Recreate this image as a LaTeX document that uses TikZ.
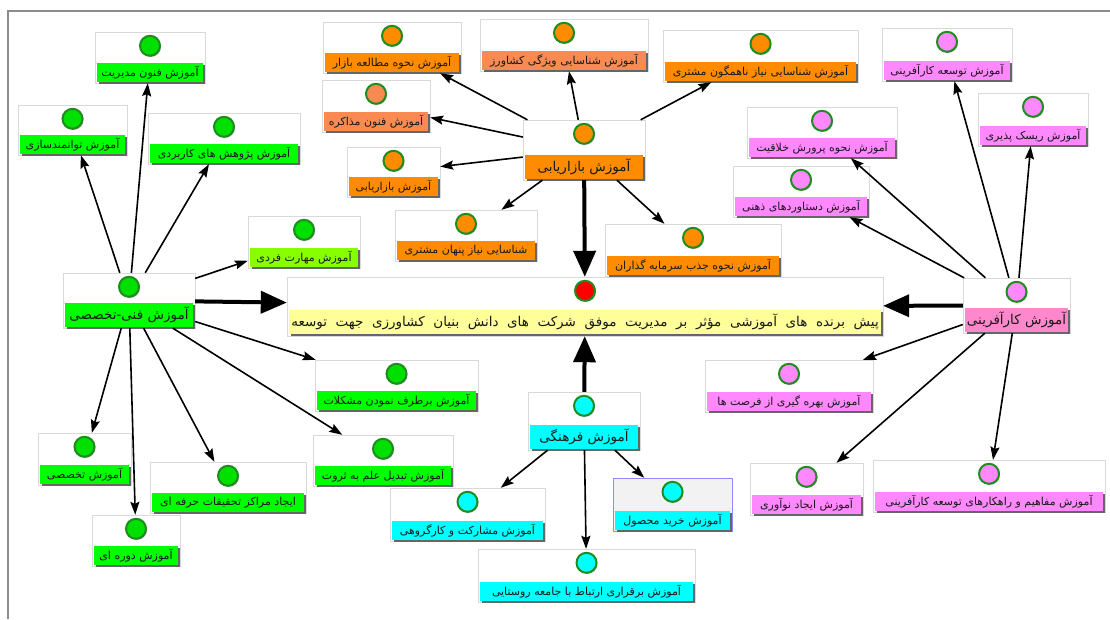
\documentclass[tikz,border=0pt]{standalone}
\usepackage{fontspec}
\usepackage{tikz}
\usetikzlibrary{positioning,arrows.meta,shadows}
\TeXXeTstate=1
\newfontfamily\fa[Script=Arabic]{DejaVu Sans}

\definecolor{gstrip}{HTML}{00FF00}
\definecolor{ystrip}{HTML}{88FF00}
\definecolor{gdot}{HTML}{00E000}
\definecolor{ostrip}{HTML}{FF8C00}
\definecolor{sstrip}{HTML}{F98A52}
\definecolor{cstrip}{HTML}{00FFFF}
\definecolor{pstrip}{HTML}{FF88FF}
\definecolor{kstrip}{HTML}{FF88CC}
\definecolor{mstrip}{HTML}{FFFF99}
\definecolor{ring}{HTML}{1E8C1E}

\tikzset{
  box/.style={draw=black!15, fill=white, inner sep=0pt},
  dot/.style={circle, draw=ring, line width=2pt, minimum size=20pt, inner sep=0pt,
    drop shadow={shadow xshift=1pt, shadow yshift=-1pt, fill=black!35, opacity=1}},
  strip/.style={inner sep=0pt, minimum height=19pt, text=black!90,
    font=\fa\fontsize{11}{12}\selectfont,
    drop shadow={shadow xshift=2pt, shadow yshift=-2pt, fill=black!60, opacity=1}},
  hubstrip/.style={strip, minimum height=24pt, font=\fa\fontsize{13.5}{15}\selectfont},
  arr/.style={-{Stealth[length=13pt,width=9pt,inset=2pt]}, line width=1.6pt},
  bigarr/.style={-{Triangle[length=26pt,width=22pt]}, line width=4pt}
}

\begin{document}
\begin{tikzpicture}[x=1pt, y=-1pt]
\useasboundingbox[fill=white] (0,0) rectangle (1110,619);

%% frame
\draw[black!45, line width=1.5pt] (8,619) -- (8,11) -- (1110,11);

%% goal
\node[box, minimum width=596, minimum height=59] (main) at (585,306.5) {};
\node[dot, fill=red, below=3pt of main.north] {};
\node[strip, fill=mstrip, minimum width=592, minimum height=24pt, font=\fa\fontsize{13.5}{15}\selectfont, above=2pt of main.south]
  {\beginR پیش\ \ برنده\ \ های\ \ آموزشی\ \ مؤثر\ \ بر\ \ مدیریت\ \ موفق\ \ شرکت\ \ های\ \ دانش\ \ بنیان\ \ کشاورزی\ \ جهت\ \ توسعه\endR};

%% technical (green)
\node[box, minimum width=132, minimum height=55] (hubG) at (129,300.5) {};
\node[dot, fill=gdot, below=3pt of hubG.north] {};
\node[hubstrip, fill=gstrip, minimum width=128, above=1pt of hubG.south] {\beginR آموزش فنی-تخصصی\endR};

\node[box, minimum width=110, minimum height=51] (mgmt) at (150,57.5) {};
\node[dot, fill=gdot, below=3pt of mgmt.north] {};
\node[strip, fill=gstrip, minimum width=106, above=1pt of mgmt.south] {\beginR آموزش فنون مدیریت\endR};

\node[box, minimum width=109, minimum height=50] (empower) at (72.5,130) {};
\node[dot, fill=gdot, below=3pt of empower.north] {};
\node[strip, fill=gstrip, minimum width=105, above=1pt of empower.south] {\beginR آموزش توانمندسازی\endR};

\node[box, minimum width=152, minimum height=51] (research) at (224,138.5) {};
\node[dot, fill=gdot, below=3pt of research.north] {};
\node[strip, fill=gstrip, minimum width=148, above=1pt of research.south] {\beginR آموزش پژوهش های کاربردی\endR};

\node[box, minimum width=112, minimum height=52] (skill) at (304,242) {};
\node[dot, fill=gdot, below=3pt of skill.north] {};
\node[strip, fill=ystrip, minimum width=108, above=1pt of skill.south] {\beginR آموزش مهارت فردی\endR};

\node[box, minimum width=163, minimum height=51] (probs) at (396.5,385.5) {};
\node[dot, fill=gdot, below=3pt of probs.north] {};
\node[strip, fill=gstrip, minimum width=159, above=1pt of probs.south] {\beginR آموزش برطرف نمودن مشکلات\endR};

\node[box, minimum width=140, minimum height=51] (wealth) at (383,460.5) {};
\node[dot, fill=gdot, below=3pt of wealth.north] {};
\node[strip, fill=gstrip, minimum width=136, above=1pt of wealth.south] {\beginR آموزش تبدیل علم به ثروت\endR};

\node[box, minimum width=93, minimum height=52] (special) at (84.5,459) {};
\node[dot, fill=gdot, below=3pt of special.north] {};
\node[strip, fill=gstrip, minimum width=89, above=1pt of special.south] {\beginR آموزش تخصصی\endR};

\node[box, minimum width=156, minimum height=51] (centres) at (228,487.5) {};
\node[dot, fill=gdot, below=3pt of centres.north] {};
\node[strip, fill=gstrip, minimum width=152, above=1pt of centres.south] {\beginR ایجاد مراکز تحقیقات حرفه ای\endR};

\node[box, minimum width=88, minimum height=51] (periodic) at (136,540.5) {};
\node[dot, fill=gdot, below=3pt of periodic.north] {};
\node[strip, fill=gstrip, minimum width=84, above=1pt of periodic.south] {\beginR آموزش دوره ای\endR};

%% marketing (orange)
\node[box, minimum width=122, minimum height=60] (hubO) at (584,150) {};
\node[dot, fill=ostrip, below=3pt of hubO.north] {};
\node[hubstrip, fill=ostrip, minimum width=118, above=1pt of hubO.south] {\beginR آموزش بازاریابی\endR};

\node[box, minimum width=138, minimum height=51] (market) at (392,47.5) {};
\node[dot, fill=ostrip, below=3pt of market.north] {};
\node[strip, fill=ostrip, minimum width=134, above=1pt of market.south] {\beginR آموزش نحوه مطالعه بازار\endR};

\node[box, minimum width=168, minimum height=52] (farmer) at (564,45) {};
\node[dot, fill=ostrip, below=3pt of farmer.north] {};
\node[strip, fill=sstrip, minimum width=164, above=1pt of farmer.south] {\beginR آموزش شناسایی ویژگی کشاورز\endR};

\node[box, minimum width=195, minimum height=52] (customer) at (760.5,56) {};
\node[dot, fill=ostrip, below=3pt of customer.north] {};
\node[strip, fill=ostrip, minimum width=191, above=1pt of customer.south] {\beginR آموزش شناسایی نیاز ناهمگون مشتری\endR};

\node[box, minimum width=108, minimum height=52] (negot) at (376,106) {};
\node[dot, fill=sstrip, below=3pt of negot.north] {};
\node[strip, fill=sstrip, minimum width=104, above=1pt of negot.south] {\beginR آموزش فنون مذاکره\endR};

\node[box, minimum width=93, minimum height=50] (selling) at (393.5,172) {};
\node[dot, fill=ostrip, below=3pt of selling.north] {};
\node[strip, fill=ostrip, minimum width=89, above=1pt of selling.south] {\beginR آموزش بازاریابی\endR};

\node[box, minimum width=142, minimum height=51] (hidden) at (466,235.5) {};
\node[dot, fill=ostrip, below=3pt of hidden.north] {};
\node[strip, fill=ostrip, minimum width=138, above=1pt of hidden.south] {\beginR شناسایی نیاز پنهان مشتری\endR};

\node[box, minimum width=176, minimum height=52] (invest) at (693,250) {};
\node[dot, fill=ostrip, below=3pt of invest.north] {};
\node[strip, fill=ostrip, minimum width=172, above=1pt of invest.south] {\beginR آموزش نحوه جذب سرمایه گذاران\endR};

%% cultural (cyan)
\node[box, minimum width=112, minimum height=58] (hubC) at (584,421) {};
\node[dot, fill=cstrip, below=3pt of hubC.north] {};
\node[hubstrip, fill=cstrip, minimum width=108, above=1pt of hubC.south] {\beginR آموزش فرهنگی\endR};

\node[box, minimum width=155, minimum height=53] (teamwork) at (467.5,514.5) {};
\node[dot, fill=cstrip, below=3pt of teamwork.north] {};
\node[strip, fill=cstrip, minimum width=151, above=1pt of teamwork.south] {\beginR آموزش مشارکت و کارگروهی\endR};

\node[box, draw=blue!45, fill=black!5, minimum width=119, minimum height=53] (purchase) at (672.5,504.5) {};
\node[dot, fill=cstrip, below=3pt of purchase.north] {};
\node[strip, fill=cstrip, minimum width=115, above=1pt of purchase.south] {\beginR آموزش خرید محصول\endR};

\node[box, minimum width=217, minimum height=53] (rural) at (586.5,575.5) {};
\node[dot, fill=cstrip, below=3pt of rural.north] {};
\node[strip, fill=cstrip, minimum width=213, above=1pt of rural.south] {\beginR آموزش برقراری ارتباط با جامعه روستایی\endR};

%% entrepreneurship (pink)
\node[box, minimum width=107, minimum height=55] (hubK) at (1016.5,305.5) {};
\node[dot, fill=pstrip, below=3pt of hubK.north] {};
\node[hubstrip, fill=kstrip, minimum width=103, above=1pt of hubK.south] {\beginR آموزش کارآفرینی\endR};

\node[box, minimum width=130, minimum height=53] (entdev) at (947,54.5) {};
\node[dot, fill=pstrip, below=3pt of entdev.north] {};
\node[strip, fill=pstrip, minimum width=126, above=1pt of entdev.south] {\beginR آموزش توسعه کارآفرینی\endR};

\node[box, minimum width=110, minimum height=53] (risk) at (1033,119.5) {};
\node[dot, fill=pstrip, below=3pt of risk.north] {};
\node[strip, fill=pstrip, minimum width=106, above=1pt of risk.south] {\beginR آموزش ریسک پذیری\endR};

\node[box, minimum width=150, minimum height=51] (creative) at (822,132.5) {};
\node[dot, fill=pstrip, below=3pt of creative.north] {};
\node[strip, fill=pstrip, minimum width=146, above=1pt of creative.south] {\beginR آموزش نحوه پرورش خلاقیت\endR};

\node[box, minimum width=136, minimum height=51] (mental) at (801,191.5) {};
\node[dot, fill=pstrip, below=3pt of mental.north] {};
\node[strip, fill=pstrip, minimum width=132, above=1pt of mental.south] {\beginR آموزش دستاوردهای ذهنی\endR};

\node[box, minimum width=168, minimum height=52] (chance) at (789,386) {};
\node[dot, fill=pstrip, below=3pt of chance.north] {};
\node[strip, fill=pstrip, minimum width=164, above=1pt of chance.south] {\beginR آموزش بهره گیری از فرصت ها\endR};

\node[box, minimum width=113, minimum height=52] (innov) at (806.5,489) {};
\node[dot, fill=pstrip, below=3pt of innov.north] {};
\node[strip, fill=pstrip, minimum width=109, above=1pt of innov.south] {\beginR آموزش ایجاد نوآوری\endR};

\node[box, minimum width=232, minimum height=52] (concepts) at (989,486) {};
\node[dot, fill=pstrip, below=3pt of concepts.north] {};
\node[strip, fill=pstrip, minimum width=228, above=1pt of concepts.south] {\beginR آموزش مفاهیم و راهکارهای توسعه کارآفرینی\endR};

%% edges
\draw[bigarr] (hubG) -- (main);
\draw[bigarr] (hubO) -- (main);
\draw[bigarr] (hubC) -- (main);
\draw[bigarr] (hubK) -- (main);

\draw[arr] (hubG) -- (mgmt);
\draw[arr] (hubG) -- (empower);
\draw[arr] (hubG) -- (research);
\draw[arr] (hubG) -- (skill);
\draw[arr] (hubG) -- (probs);
\draw[arr] (hubG) -- (wealth);
\draw[arr] (hubG) -- (centres);
\draw[arr] (hubG) -- (periodic);
\draw[arr] (hubG) -- (special);

\draw[arr] (hubO) -- (market);
\draw[arr] (hubO) -- (farmer);
\draw[arr] (hubO) -- (customer);
\draw[arr] (hubO) -- (negot);
\draw[arr] (hubO) -- (selling);
\draw[arr] (hubO) -- (hidden);
\draw[arr] (hubO) -- (invest);

\draw[arr] (hubC) -- (teamwork);
\draw[arr] (hubC) -- (rural);
\draw[arr] (hubC) -- (purchase);

\draw[arr] (hubK) -- (entdev);
\draw[arr] (hubK) -- (risk);
\draw[arr] (hubK) -- (creative);
\draw[arr] (hubK) -- (mental);
\draw[arr] (hubK) -- (chance);
\draw[arr] (hubK) -- (innov);
\draw[arr] (hubK) -- (concepts);
\end{tikzpicture}
\end{document}
